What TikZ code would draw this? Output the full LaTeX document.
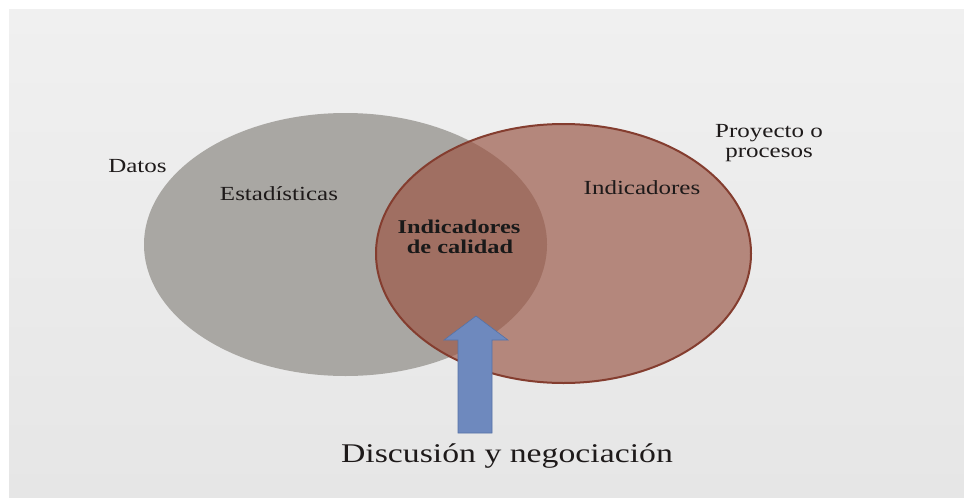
\documentclass[tikz,border=0pt]{standalone}
\usepackage{fontspec}
\setmainfont{Liberation Serif}[FakeStretch=1.25]
\definecolor{bgtop}{HTML}{F0F0F0}
\definecolor{bgbot}{HTML}{E6E6E6}
\definecolor{grayc}{HTML}{A9A7A3}
\definecolor{brownc}{HTML}{B4877C}
\definecolor{brownd}{HTML}{A06F62}
\definecolor{browne}{HTML}{843D2F}
\definecolor{bluec}{HTML}{6E89BE}
\definecolor{blued}{HTML}{5672A6}
\definecolor{txt}{HTML}{1E1A1A}
\tikzset{
  lbl/.style={text=txt, font=\fontsize{20}{20}\selectfont, inner sep=0pt, align=center},
  boldlbl/.style={text=black!90, font=\fontsize{19.5}{20}\selectfont\bfseries, inner sep=0pt, align=center},
  biglbl/.style={text=txt, font=\fontsize{27}{30}\selectfont, inner sep=0pt}
}
\begin{document}
\begin{tikzpicture}[x=1pt,y=-1pt]
\useasboundingbox (0,0) rectangle (964,498);
\fill[white] (0,0) rectangle (964,498);
\shade[top color=bgtop, bottom color=bgbot] (9,9) rectangle (964,498);
% gray ellipse
\fill[grayc] (345.5,244.5) ellipse [x radius=201.5, y radius=131.5];
% brown ellipse
\fill[brownc] (563.5,253.5) ellipse [x radius=187.5, y radius=129.5];
\begin{scope}
  \clip (345.5,244.5) ellipse [x radius=201.5, y radius=131.5];
  \fill[brownd] (563.5,253.5) ellipse [x radius=187.5, y radius=129.5];
\end{scope}
\draw[browne, line width=2pt] (563.5,253.5) ellipse [x radius=187.5, y radius=129.5];
% arrow
\fill[bluec, draw=blued, line width=0.6pt] (476,316) -- (508,340) -- (492,340) -- (492,433) -- (458,433) -- (458,340) -- (444,340) -- cycle;
% texts
\node[lbl] (datos) at (137.5,166) {Datos};
\node[lbl] (estad) at (279,194) {Estadísticas};
\node[lbl] (indic) at (642,188) {Indicadores};
\node[lbl] (proy) at (769,143) {Proyecto o\\procesos};
\node[boldlbl] (calidad1) at (459,227) {Indicadores};
\node[boldlbl] (calidad2) at (460,247) {de calidad};
\node[biglbl] (disc) at (507,456) {Discusión y negociación};
\end{tikzpicture}
\end{document}
